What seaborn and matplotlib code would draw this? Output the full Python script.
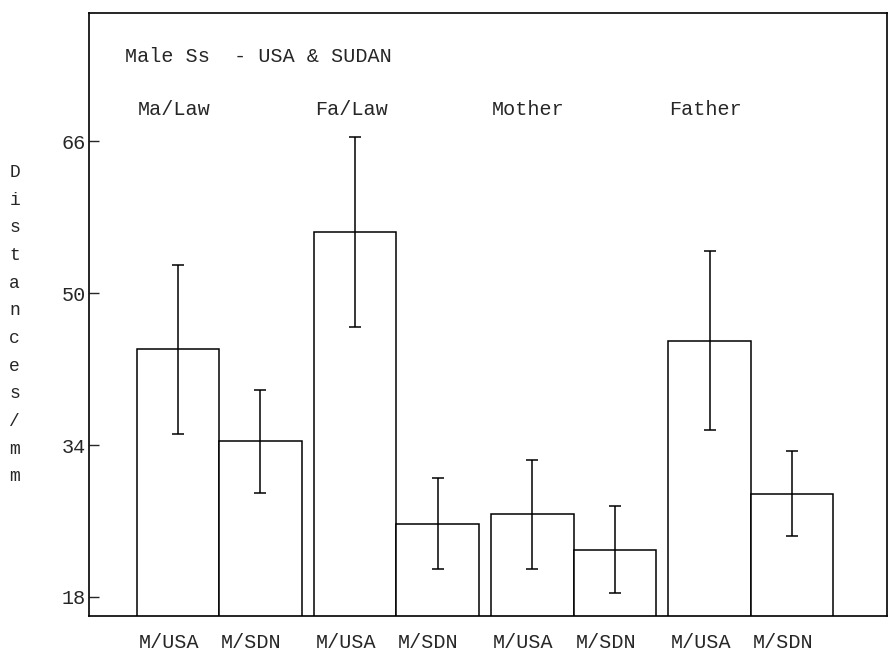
import pandas as pd
import matplotlib
matplotlib.use("Agg")
import matplotlib.pyplot as plt
import matplotlib.transforms as mtransforms
import seaborn as sns

groups = ['Ma/Law', 'Fa/Law', 'Mother', 'Father']
countries = ['M/USA', 'M/SDN']
usa_means = [44.1, 56.4, 26.7, 45.0]
usa_err = [8.9, 10.0, 5.7, 9.4]
sdn_means = [34.4, 25.7, 23.0, 28.9]
sdn_err = [5.4, 4.8, 4.6, 4.5]
yticks = [18, 34, 50, 66]


def main():
    df = pd.DataFrame({
        'group': groups * 2,
        'country': ['M/USA'] * 4 + ['M/SDN'] * 4,
        'dist': usa_means + sdn_means,
    })

    sns.set_style('white')
    plt.rcParams['font.family'] = ['Liberation Mono', 'DejaVu Sans Mono']

    fig = plt.figure(figsize=(8.89, 6.56), dpi=100)
    ax = fig.add_axes([0.100, 0.061, 0.898, 0.919])

    sns.barplot(data=df, x='group', y='dist', hue='country', order=groups,
                hue_order=countries, palette=['white', 'white'],
                edgecolor='black', linewidth=1.1, width=0.93, gap=0,
                errorbar=None, legend=False, ax=ax)

    # error bars on top of the bars
    centers, labels = [], []
    for cont, means, errs, name in zip(ax.containers, [usa_means, sdn_means],
                                       [usa_err, sdn_err], countries):
        xs = [p.get_x() + p.get_width() / 2 for p in cont]
        ax.errorbar(xs, means, yerr=errs, fmt='none', ecolor='black',
                    elinewidth=1.1, capsize=4, capthick=1.1)
        centers += xs
        labels += [name] * len(xs)

    order = sorted(range(len(centers)), key=lambda i: centers[i])
    ax.set_xticks([centers[i] for i in order], [labels[i] for i in order])

    ax.set_xlim(-0.735, 3.77)
    ax.set_ylim(16, 79.5)
    ax.set_yticks(yticks)
    ax.tick_params(axis='x', length=0, pad=12, labelsize=14.5)
    ax.tick_params(axis='y', direction='in', length=7, width=1, pad=2,
                   labelsize=14.5, left=True)
    ax.set_xlabel('')

    # the old printout sets the bar labels a little to the left
    shift = mtransforms.ScaledTranslation(-9 / 100, 0, fig.dpi_scale_trans)
    for lab in ax.get_xticklabels():
        lab.set_transform(lab.get_transform() + shift)

    for s in ax.spines.values():
        s.set_color('black')
        s.set_linewidth(1.2)

    ax.text(-0.53, 74.9, 'Male Ss  - USA & SUDAN', fontsize=14.5,
            ha='left', va='center')
    for i, g in enumerate(groups):
        ax.text(i - 0.46, 69.4, g, fontsize=14.5, ha='left', va='center')

    ax.set_ylabel('\n'.join('Distances/mm'), rotation=0, fontsize=13,
                  linespacing=1.82, va='center', ha='center')
    ax.yaxis.set_label_coords(-0.093, 0.483)

    fig.savefig('out.png', dpi=100)


if __name__ == "__main__":
    main()
